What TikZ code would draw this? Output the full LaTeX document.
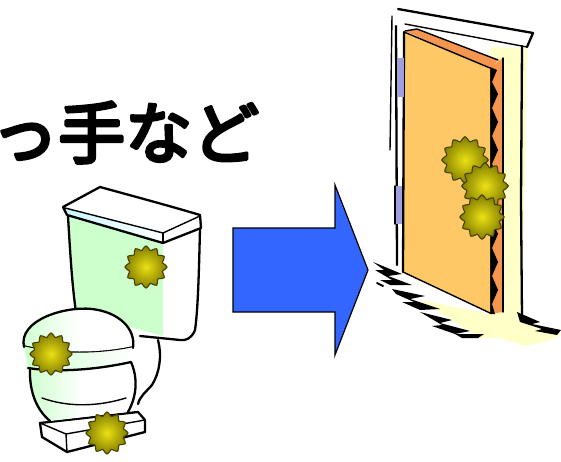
\documentclass[tikz,border=0pt]{standalone}
\usepackage{fontspec}
\newfontfamily\jpfont{Noto Sans CJK JP}[FakeBold=5]
\definecolor{tankgreen}{RGB}{204,255,204}
\definecolor{lidblue}{RGB}{200,250,255}
\definecolor{arrowblue}{RGB}{51,102,255}
\definecolor{doorface}{RGB}{255,200,102}
\definecolor{dooredge}{RGB}{245,150,80}
\definecolor{glow}{RGB}{255,255,200}
\definecolor{hinge}{RGB}{160,160,225}
\definecolor{germin}{RGB}{235,225,20}
\definecolor{germout}{RGB}{130,125,0}
\definecolor{germline}{RGB}{70,65,0}
\tikzset{
  ink/.style={draw=black, line width=2.3pt},
  thinink/.style={draw=black, line width=1.4pt},
  brush/.style={fill=black},
  germ/.style={inner color=germin, outer color=germout, draw=germline, line width=1.1pt},
  arrowshape/.style={fill=arrowblue, draw=black, line width=1.2pt, line join=miter},
}
% a spiky round microbe at (#1,#2) with radius #3
\newcommand\drawgerm[3]{%
  \shadedraw[germ] plot[smooth cycle, samples=48, domain=0:352.5, variable=\t]
    ({#1+#3*(1+0.11*cos(12*\t))*cos(\t)},{#2+#3*(1+0.11*cos(12*\t))*sin(\t)});}
\begin{document}
\begin{tikzpicture}[x=1pt, y=-1pt, line join=round, line cap=round]
\useasboundingbox (0,0) rectangle (561,462);

% caption
\node[anchor=base west, inner sep=0pt, font=\jpfont\fontsize{67}{67}\selectfont] (caption) at (-9,158) {っ手など};

% ---------- toilet ----------
% tank body: front face green, side face white
\fill[tankgreen] (68,217) -- (163,243) -- (163,336) -- (76,312) -- cycle;
\fill[white] (163,243) -- (200,228) -- (197,330) -- (185,340) -- (163,336) -- cycle;
\draw[ink] (68,216) .. controls (70,250) and (72,285) .. (76,312);
\draw[ink] (200,228) .. controls (199,270) and (198,310) .. (195,330) .. controls (192,338) and (186,341) .. (180,340) -- (140,336);
% tank lid
\fill[white] (63,207) -- (100,187) -- (200,215) -- (163,233) -- cycle;
\shade[left color=lidblue, right color=white] (63,207) -- (163,233) -- (163,243) -- (67,215) -- cycle;
\fill[white] (163,233) -- (200,215) -- (201,228) -- (163,243) -- cycle;
\draw[ink] (63,207) -- (100,187) .. controls (140,198) and (170,206) .. (200,215) -- (201,228) -- (163,243) -- (67,215) -- cycle;
\draw[thinink] (65,208) -- (163,233) -- (200,216);
\draw[thinink] (163,233) -- (163,243);

% trapway behind the bowl
\fill[white] (128,372) .. controls (140,350) and (150,342) .. (160,340) -- (160,390) .. controls (150,397) and (140,400) .. (128,404) -- cycle;
\draw[ink] (158,340) .. controls (162,355) and (160,372) .. (152,385) .. controls (146,392) and (140,396) .. (138,404);

% base
\fill[white] (40,423) -- (138,412) -- (145,420) -- (145,432) -- (67,452) -- (42,437) -- cycle;
\draw[ink] (40,423) -- (138,412) -- (145,420) -- (145,432) -- (67,452) -- (42,437) -- cycle;
\draw[thinink] (40,423) -- (66,434) -- (145,420);
\draw[thinink] (66,434) -- (67,452);

% bowl body
\shade[left color=tankgreen, right color=white, middle color=white]
  (30,366) .. controls (28,395) and (38,412) .. (50,421) -- (128,412) .. controls (138,396) and (137,378) .. (131,362) -- cycle;
\draw[ink] (30,368) .. controls (29,394) and (38,411) .. (50,421);
\draw[ink] (131,362) .. controls (138,378) and (137,396) .. (128,412);
\draw[thinink] (42,398) .. controls (70,408) and (100,406) .. (126,398);
% rim band
\shade[left color=tankgreen, right color=white]
  (24,345) -- (28,368) .. controls (60,373) and (100,369) .. (131,362) -- (133,345) .. controls (100,353) and (60,353) .. (24,345) -- cycle;
\draw[ink] (24,345) .. controls (60,354) and (100,353) .. (133,346);
\draw[ink] (28,368) .. controls (60,373) and (100,369) .. (131,362);
% closed seat lid
\shade[left color=tankgreen, right color=white, middle color=white]
  (24,345) .. controls (18,320) and (65,306) .. (92,309) .. controls (118,312) and (136,328) .. (133,346) .. controls (100,353) and (60,354) .. (24,345) -- cycle;
\draw[ink] (24,347) .. controls (18,320) and (65,306) .. (92,309) .. controls (118,312) and (136,328) .. (133,348);

% microbes on the toilet
\drawgerm{146}{267}{19}
\drawgerm{51}{354}{19}
\drawgerm{107}{433}{19}

% ---------- arrow ----------
\draw[arrowshape] (233,228) -- (335,228) -- (335,185) -- (368,270) -- (335,355) -- (335,312) -- (233,312) -- cycle;

% ---------- door ----------
% light coming through the gap and under the door
\fill[glow] (490,47) -- (527,48) -- (522,318) -- (561,335) -- (545,342) -- (503,312) -- cycle;
\fill[glow] (420,300) -- (490,314) -- (503,312) -- (545,342) -- (525,346) -- (500,338) -- (480,338) -- cycle;
% frame
\fill[white] (398,9) -- (533,33) -- (527,47) -- (405,24) -- cycle;
\draw[ink] (398,9) -- (533,33) -- (527,47);
\draw[thinink] (405,24) -- (527,47);
\draw[ink] (522,46) -- (521,200) -- (522,318);
\draw[thinink] (392,16) -- (390,150);
\draw[ink] (396,26) -- (397,265);
% top edge of the door
\fill[dooredge] (405,31) -- (417,29) -- (498,60) -- (490,69) -- cycle;
\draw[thinink] (405,31) -- (417,29) -- (498,60);
% side edge of the door with its grain
\fill[dooredge] (490,67) -- (503,58) -- (503,312) -- (490,314) -- cycle;
\fill[black] (490,67) -- (497,70) -- (492,82) -- (498,94) -- (492,108) -- (498,122) -- (492,136) -- (498,150) -- (492,164) -- (498,178) -- (492,192) -- (498,206) -- (492,220) -- (498,234) -- (492,248) -- (498,262) -- (492,276) -- (498,290) -- (492,304) -- (495,314) -- (490,314) -- cycle;
\draw[thinink] (503,58) -- (503,312);
% face of the door
\fill[doorface] (404,32) -- (490,68) -- (490,313) -- (403,272) -- cycle;
\draw[ink] (404,32) -- (403,272);
\draw[thinink] (404,32) -- (490,68);
\draw[thinink] (403,272) -- (490,313);
% hinges
\fill[hinge] (398,58) rectangle (404,97);
\fill[hinge] (395,186) rectangle (402,224);
\draw[thinink] (395,186) -- (395,224);
% jagged floor shadow
\fill[brush] (373,262) -- (402,274) -- (388,276) -- (412,285) -- (390,285) -- (380,280) -- (392,280) -- (375,270) -- (384,270) -- cycle;
\fill[brush] (392,289) -- (425,296) -- (410,299) -- (440,309) -- (420,310) -- (402,302) -- (414,302) -- (396,294) -- cycle;
\fill[brush] (420,312) -- (452,320) -- (440,323) -- (470,331) -- (455,334) -- (432,326) -- (442,325) -- cycle;
\fill[brush] (455,334) -- (484,334) -- (478,338) -- (462,338) -- cycle;
\fill[brush] (517,312) -- (540,322) -- (532,324) -- (561,330) -- (557,335) -- (535,331) -- (542,329) -- (520,322) -- cycle;
\draw[line width=2pt] (377,283) -- (383,286);

% microbes on the door
\drawgerm{465}{160}{21}
\drawgerm{485}{186}{21}
\drawgerm{482}{217}{20}
\end{tikzpicture}
\end{document}
